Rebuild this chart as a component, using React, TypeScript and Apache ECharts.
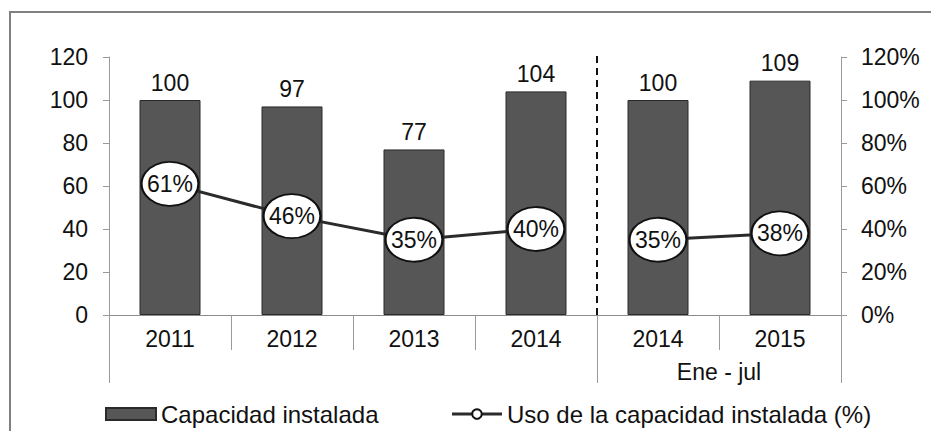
import React, { useEffect, useRef } from "react";
import * as echarts from "echarts";

const categories = ["2011", "2012", "2013", "2014", "2014", "2015"];
const capacity = [100, 97, 77, 104, 100, 109];
const usageAnnual = [61, 46, 35, 40, "-", "-"];
const usagePeriod = ["-", "-", "-", "-", 35, 38];
const leftTicks = { min: 0, max: 120, interval: 20 };
const groupLabel = "Ene - jul";
const dividerAt = 4;
const dividerTop = 122.5;
const barName = "Capacidad instalada";
const lineName = "Uso de la capacidad instalada (%)";

const FONT = "'Liberation Sans', Arial, sans-serif";
const FS = 23;
const TXT = "#111";

export default function App() {
  const ref = useRef<HTMLDivElement>(null);
  useEffect(() => {
    if (!ref.current) return;
    const chart = echarts.init(ref.current, null, { renderer: "svg" });
    const lineSeriesBase = {
      type: "line",
      name: lineName,
      yAxisIndex: 1,
      xAxisIndex: 0,
      symbol: "circle",
      symbolSize: [57, 44],
      z: 5,
      lineStyle: { color: "#2b2b2b", width: 3 },
      itemStyle: { color: "#fff", borderColor: "#111", borderWidth: 2 },
      label: {
        show: true,
        position: "inside",
        formatter: "{c}%",
        fontSize: FS,
        fontFamily: FONT,
        color: TXT,
      },
    };
    chart.setOption({
      animation: false,
      backgroundColor: "#fff",
      textStyle: { fontFamily: FONT },
      grid: { left: 109, right: 90, top: 57, bottom: 116, containLabel: false },
      legend: {
        data: [{ name: barName, icon: "rect" }, { name: lineName }],
        left: 100,
        top: 397,
        itemWidth: 50,
        itemHeight: 12,
        itemGap: 72,
        lineStyle: { width: 3, color: "#2b2b2b" },
        textStyle: { fontSize: 24, fontFamily: FONT, color: TXT },
        selectedMode: false,
      },
      xAxis: [
        {
          type: "category",
          data: categories,
          position: "bottom",
          axisLine: { show: true, lineStyle: { color: "#8c8c8c", width: 1 } },
          axisTick: {
            show: true,
            interval: 0,
            length: 35,
            alignWithLabel: false,
            lineStyle: { color: "#9a9a9a" },
          },
          axisLabel: {
            interval: 0,
            margin: 12,
            fontSize: FS,
            fontFamily: FONT,
            color: TXT,
          },
          splitLine: { show: false },
        },
        {
          type: "value",
          min: 0,
          max: 6,
          position: "bottom",
          axisLine: { show: false },
          splitLine: { show: false },
          axisTick: {
            show: true,
            customValues: [0, 4, 6],
            length: 68,
            lineStyle: { color: "#9a9a9a" },
          },
          axisLabel: {
            show: true,
            customValues: [5],
            formatter: () => groupLabel,
            margin: 45,
            fontSize: FS,
            fontFamily: FONT,
            color: TXT,
          },
        },
      ],
      yAxis: [
        {
          type: "value",
          ...leftTicks,
          position: "left",
          axisLine: { show: true, lineStyle: { color: "#9a9a9a" } },
          axisTick: { show: true, length: 6, lineStyle: { color: "#9a9a9a" } },
          splitLine: { show: false },
          axisLabel: { margin: 21, fontSize: FS, fontFamily: FONT, color: TXT },
        },
        {
          type: "value",
          ...leftTicks,
          position: "right",
          axisLine: { show: true, lineStyle: { color: "#9a9a9a" } },
          axisTick: { show: true, length: 6, lineStyle: { color: "#9a9a9a" } },
          splitLine: { show: false },
          axisLabel: {
            margin: 20,
            formatter: "{value}%",
            fontSize: FS,
            fontFamily: FONT,
            color: TXT,
          },
        },
      ],
      series: [
        {
          type: "bar",
          name: barName,
          data: capacity,
          barWidth: "50%",
          itemStyle: { color: "#565656", borderColor: "#2a2a2a", borderWidth: 1 },
          label: {
            show: true,
            position: "top",
            distance: 6,
            fontSize: FS,
            fontFamily: FONT,
            color: TXT,
          },
        },
        { ...lineSeriesBase, data: usageAnnual },
        { ...lineSeriesBase, data: usagePeriod },
      ],
    });
    const dx = chart.convertToPixel({ xAxisIndex: 1 }, dividerAt) as number;
    const y0 = chart.convertToPixel({ yAxisIndex: 0 }, 0) as number;
    const y1 = chart.convertToPixel({ yAxisIndex: 0 }, dividerTop) as number;
    chart.setOption({
      graphic: [
        {
          type: "rect",
          shape: { x: 10, y: 12, width: 960, height: 460 },
          style: { fill: "none", stroke: "#808080", lineWidth: 2 },
          silent: true,
          z: -1,
        },
        {
          type: "line",
          shape: { x1: dx, y1: y0, x2: dx, y2: y1 },
          style: { stroke: "#111", lineWidth: 2, lineDash: [7, 5] },
          silent: true,
          z: 10,
        },
      ],
    });
    return () => chart.dispose();
  }, []);
  return (
    <div
      ref={ref}
      style={{ position: "fixed", left: 0, top: 0, width: 931, height: 431 }}
    />
  );
}
